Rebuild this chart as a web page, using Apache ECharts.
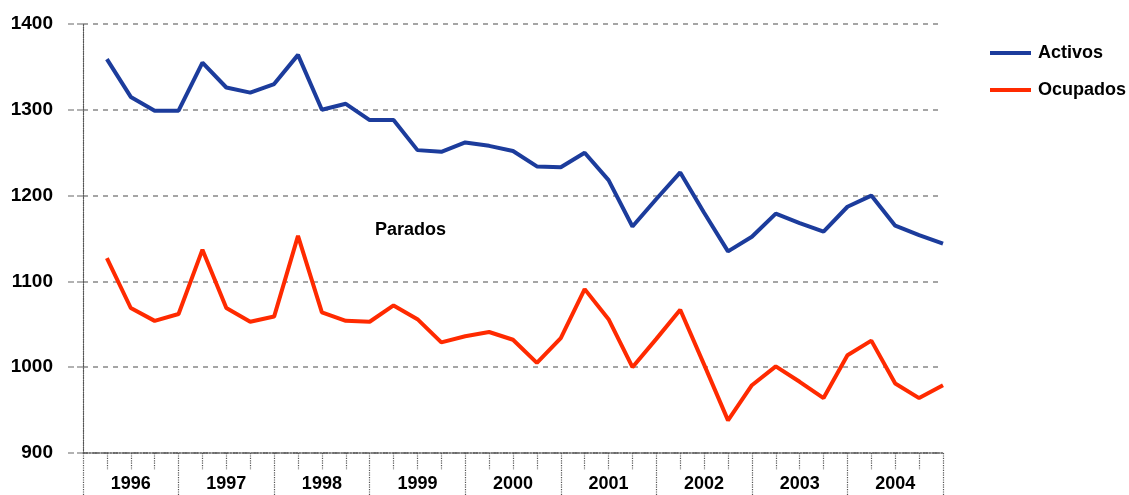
<!DOCTYPE html>
<html>
<head>
<meta charset="utf-8">
<script src="https://cdn.jsdelivr.net/npm/echarts@6/dist/echarts.min.js"></script>
<style>
html,body{margin:0;padding:0;background:#fff;}
#c{width:1129px;height:495px;}
</style>
</head>
<body>
<div id="c"></div>
<script>
var years = ['1996','1997','1998','1999','2000','2001','2002','2003','2004'];
var yTicks = [900, 1000, 1100, 1200, 1300, 1400];
var activos = [1359,1315,1299,1299,1355,1326,1320,1330,1364,1300,1307,1288,
               1288,1253,1251,1262,1258,1252,1234,1233,1250,1218,1164,1196,
               1227,1180,1135,1152,1179,1168,1158,1187,1200,1165,1154,1144];
var ocupados = [1127,1069,1054,1062,1137,1069,1053,1059,1153,1064,1054,1053,
                1072,1056,1029,1036,1041,1032,1005,1034,1091,1056,1000,1033,
                1067,1003,938,979,1001,983,964,1014,1031,981,964,979];
var seriesNames = ['Activos', 'Ocupados'];
var annotation = 'Parados';

function pairs(arr){ return arr.map(function(v,i){ return [i+1, v]; }); }

var font = '"Liberation Sans", Arial, sans-serif';
var chart = echarts.init(document.getElementById('c'), null, {renderer:'canvas'});
chart.setOption({
  animation: false,
  backgroundColor: '#fff',
  grid: {left: 83, right: 186, top: 24, bottom: 42, containLabel: false},
  legend: {
    orient: 'vertical', left: 985, top: 38,
    icon: 'rect', itemWidth: 41, itemHeight: 4, itemGap: 17,
    textStyle: {fontFamily: font, fontWeight: 'bold', fontSize: 18, color: '#000', lineHeight: 20, padding:[0,0,0,2]},
    data: seriesNames
  },
  graphic: [{
    type: 'text', left: 375, top: 221,
    style: {text: annotation, fontFamily: font, fontWeight: 'bold', fontSize: 18, fill: '#000'}
  }],
  xAxis: [{
    type: 'value', min: 0, max: years.length * 4, interval: 4,
    axisLine: {show: true, lineStyle: {color: '#555', width: 1.5, type: 'dotted'}},
    axisTick: {show: true, length: 42, lineStyle: {color: '#555', width: 1.2, type: 'dotted'}},
    minorTick: {show: true, splitNumber: 4, length: 17, lineStyle: {color: '#555', width: 1.2, type: 'dotted'}},
    axisLabel: {show: false},
    splitLine: {show: false}
  }, {
    type: 'category', data: years, position: 'bottom', boundaryGap: true,
    axisLine: {show: false}, axisTick: {show: false},
    axisLabel: {margin: 22, fontFamily: font, fontWeight: 'bold', fontSize: 18, color: '#000'},
    splitLine: {show: false}
  }],
  yAxis: {
    type: 'value', min: yTicks[0], max: yTicks[yTicks.length-1], interval: 100,
    axisLine: {show: true, lineStyle: {color: '#555', width: 1.2, type: 'dotted'}},
    axisTick: {show: true, length: 17, lineStyle: {color: '#999', width: 1.5, type: 'dashed'}},
    axisLabel: {margin: 30, fontFamily: font, fontWeight: 'bold', fontSize: 19, color: '#000',
                formatter: function(v){ return String(v); }},
    splitLine: {show: true, lineStyle: {color: '#888', width: 1.5, type: [5,5]}}
  },
  series: [{
    name: seriesNames[0], type: 'line', xAxisIndex: 0, data: pairs(activos),
    showSymbol: false, symbol: 'none', color: '#1c3c9c',
    lineStyle: {width: 4, color: '#1c3c9c'}
  }, {
    name: seriesNames[1], type: 'line', xAxisIndex: 0, data: pairs(ocupados),
    showSymbol: false, symbol: 'none', color: '#ff2a00',
    lineStyle: {width: 4, color: '#ff2a00'}
  }]
});
</script>
</body>
</html>
